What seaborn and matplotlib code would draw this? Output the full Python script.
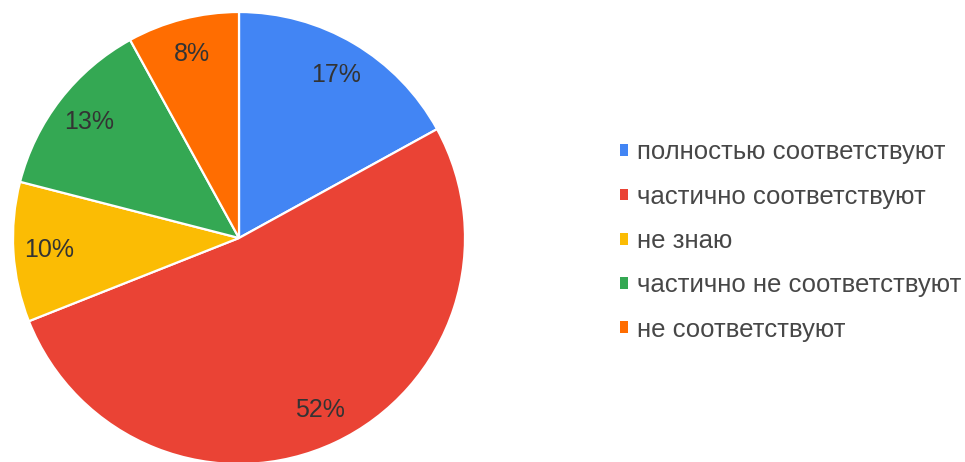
import matplotlib
matplotlib.use("Agg")
import matplotlib.pyplot as plt
from matplotlib.patches import Patch
import seaborn as sns

# answers and shares (%)
categories = ["полностью соответствуют", "частично соответствуют", "не знаю",
              "частично не соответствуют", "не соответствуют"]
shares = [17, 52, 10, 13, 8]
colors = ["#4285F4", "#EA4335", "#FBBC04", "#34A853", "#FF6D01"]

sns.set_theme(style="white")
plt.rcParams['font.family'] = ['Liberation Sans', 'DejaVu Sans']

fig = plt.figure(figsize=(9.65, 4.62), dpi=100)
ax = fig.add_axes([13 / 965, -2 / 462, 452 / 965, 452 / 462])

pal = sns.color_palette(colors)
wedges, texts, autotexts = ax.pie(
    shares, colors=pal, startangle=90, counterclock=False,
    autopct="%d%%", pctdistance=0.84,
    wedgeprops=dict(edgecolor="white", linewidth=1.6),
    textprops=dict(color="#333333", fontsize=18),
)
ax.set_xlim(-1, 1)
ax.set_ylim(-1, 1)
ax.set_aspect("equal")
ax.axis("off")

handles = [Patch(facecolor=c, edgecolor="none") for c in pal]
fig.legend(handles, categories, loc="center left", bbox_to_anchor=(620 / 965, 1 - 241 / 462),
           frameon=False, fontsize=18.5, labelcolor="#474747",
           handlelength=0.33, handleheight=0.33, handletextpad=0.33,
           labelspacing=0.79, borderaxespad=0, borderpad=0)

fig.savefig("out.png", dpi=100)
